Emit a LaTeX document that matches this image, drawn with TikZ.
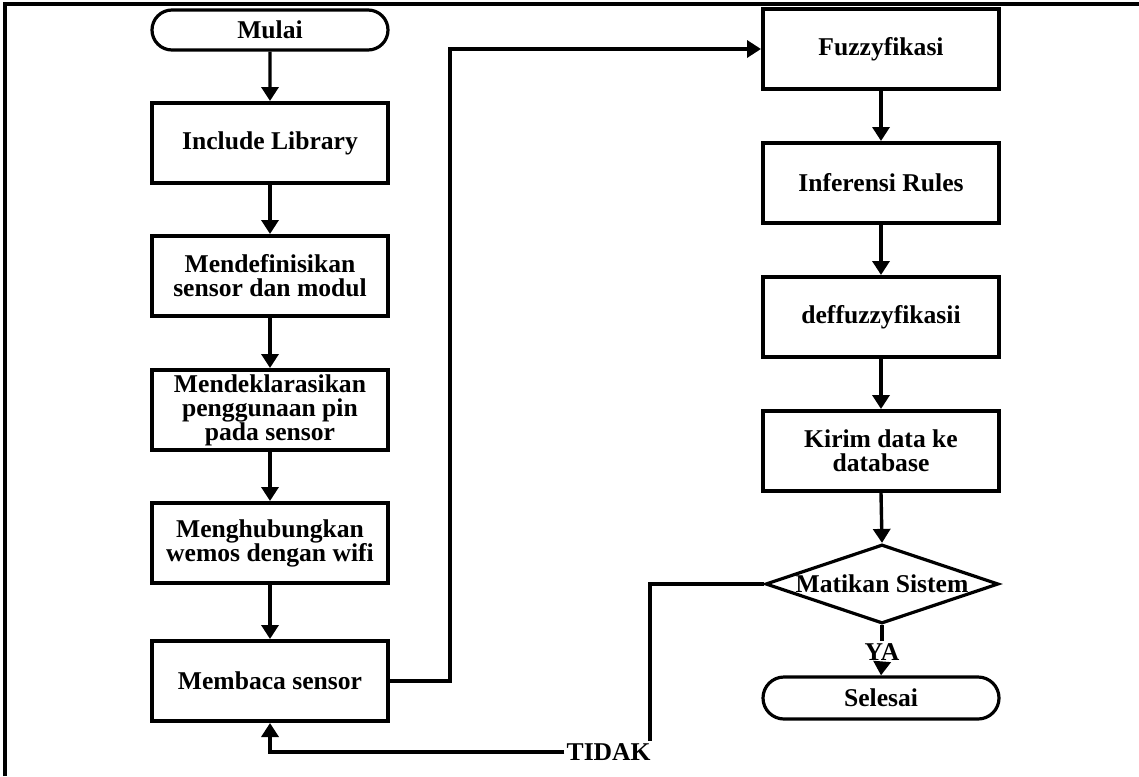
\documentclass[tikz,border=0pt]{standalone}
\usepackage{fontspec}
\setmainfont{Liberation Serif}
\usetikzlibrary{shapes.geometric,shapes.misc,arrows.meta}
\begin{document}
\begin{tikzpicture}[x=0.5pt,y=-0.5pt,
  every node/.style={font=\fontsize{12.8}{12}\selectfont\bfseries, align=center},
  procbox/.style={draw, line width=2pt, minimum width=118pt, minimum height=40pt, inner sep=0pt},
  term/.style={draw, rounded rectangle, line width=1.6pt, minimum width=118pt, minimum height=20pt, inner sep=0pt},
  decis/.style={draw, diamond, line width=1.6pt, minimum width=116.5pt, minimum height=39.5pt, inner sep=0pt},
  conn/.style={line width=1.7pt},
  arr/.style={conn, -{Triangle[length=7pt,width=8.5pt]}},
  lbl/.style={inner sep=1pt},
  frame/.style={line width=1.7pt}
]
\useasboundingbox (0,0) rectangle (1139,776);
\draw[frame] (5,776) -- (5,4) -- (1139,4);

\node[term] (mulai) at (270,30) {Mulai};
\node[procbox] (inc) at (270,143) {Include Library};
\node[procbox] (def) at (270,276) {Mendefinisikan\\sensor dan modul};
\node[procbox] (dek) at (270,410) {Mendeklarasikan\\penggunaan pin\\pada sensor};
\node[procbox] (hub) at (270,543) {Menghubungkan\\wemos dengan wifi};
\node[procbox] (baca) at (270,681) {Membaca sensor};

\node[procbox] (fuz) at (881,49) {Fuzzyfikasi};
\node[procbox] (inf) at (881,183) {Inferensi Rules};
\node[procbox] (dfz) at (881,317) {deffuzzyfikasii};
\node[procbox] (kirim) at (881,451) {Kirim data ke\\database};
\node[decis] (mat) at (882,584) {\makebox[0pt]{Matikan Sistem}};
\node[lbl] (ya) at (882,652) {YA};
\node[term, minimum height=21pt] (sel) at (881,698) {Selesai};
\node[lbl, anchor=east] (tidak) at (653,752) {TIDAK};

\coordinate (bend) at (450,0);

\draw[arr] (mulai) -- (inc);
\draw[arr] (inc) -- (def);
\draw[arr] (def) -- (dek);
\draw[arr] (dek) -- (hub);
\draw[arr] (hub) -- (baca);
\draw[arr] (baca.east) -| (bend |- fuz.west) -- (fuz.west);
\draw[arr] (fuz) -- (inf);
\draw[arr] (inf) -- (dfz);
\draw[arr] (dfz) -- (kirim);
\draw[arr] (kirim.south) -- (mat.north);
\draw[conn] (mat.south) -- (ya.north);
\draw[arr] (ya.south) -- (sel.north);
\draw[conn] (mat.west) -| ([xshift=-1.5pt]tidak.north east);
\draw[arr] (tidak.west) -| (baca.south);
\end{tikzpicture}
\end{document}
